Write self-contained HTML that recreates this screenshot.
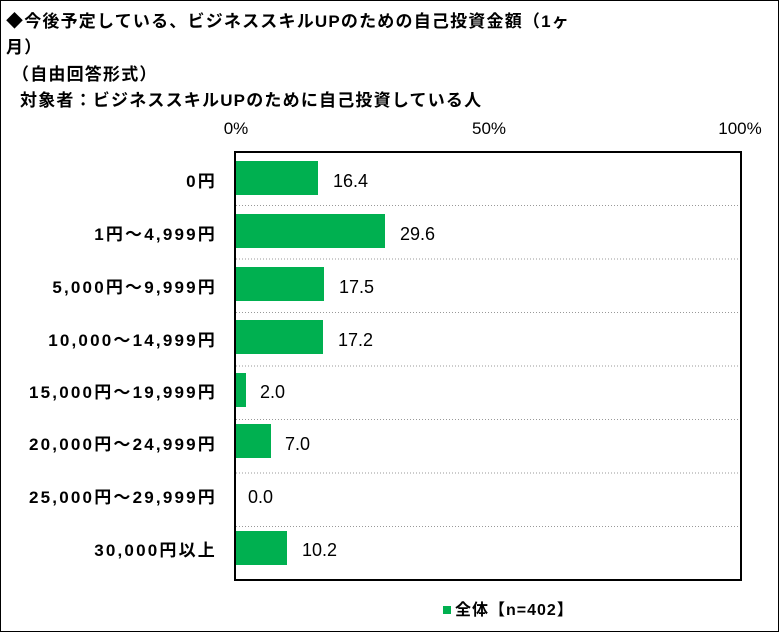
<!DOCTYPE html>
<html><head><meta charset="utf-8"><style>
body{margin:0;background:#fff}
.f{font-family:"Liberation Sans","Noto Sans CJK JP",sans-serif}
</style></head><body>
<svg width="779" height="632" xmlns="http://www.w3.org/2000/svg" class="f">
<rect x="0.5" y="0.5" width="778" height="631" fill="#fff" stroke="#000"/>
<g font-size="17" font-weight="bold" fill="#000" letter-spacing="1.2">
<text x="6" y="27">◆今後予定している、ビジネススキルUPのための自己投資金額（1ヶ</text>
<text x="6" y="53">月）</text>
<text x="12" y="80">（自由回答形式）</text>
<text x="20" y="106">対象者：ビジネススキルUPのために自己投資している人</text>
</g>
<g font-size="17" fill="#000" text-anchor="middle">
<text x="236" y="134">0%</text><text x="489" y="134">50%</text><text x="740" y="134">100%</text>
</g>
<g stroke="#999" stroke-dasharray="1,2" stroke-width="1">
<line x1="236" x2="741" y1="205.5" y2="205.5"/><line x1="236" x2="741" y1="259" y2="259"/>
<line x1="236" x2="741" y1="312.5" y2="312.5"/><line x1="236" x2="741" y1="366" y2="366"/>
<line x1="236" x2="741" y1="419.5" y2="419.5"/><line x1="236" x2="741" y1="473" y2="473"/>
<line x1="236" x2="741" y1="526.5" y2="526.5"/>
</g>
<g fill="#00b050">
<rect x="236" y="161" width="82" height="34"/>
<rect x="236" y="214" width="149" height="34"/>
<rect x="236" y="267" width="88" height="34"/>
<rect x="236" y="320" width="87" height="34"/>
<rect x="236" y="373" width="10" height="34"/>
<rect x="236" y="424" width="35" height="34"/>
<rect x="236" y="531" width="51" height="34"/>
</g>
<rect x="235" y="152" width="506" height="428" fill="none" stroke="#000" stroke-width="2"/>
<g font-size="18" fill="#000">
<text x="333" y="187">16.4</text><text x="400" y="240">29.6</text>
<text x="339" y="293">17.5</text><text x="338" y="346">17.2</text>
<text x="260" y="398">2.0</text><text x="285" y="450">7.0</text>
<text x="248" y="503">0.0</text><text x="302" y="556">10.2</text>
</g>
<g font-size="17" font-weight="bold" fill="#000" text-anchor="end" letter-spacing="2.2">
<text x="217" y="187">0円</text><text x="217" y="240">1円～4,999円</text>
<text x="217" y="293">5,000円～9,999円</text><text x="217" y="346">10,000～14,999円</text>
<text x="217" y="398">15,000円～19,999円</text><text x="217" y="450">20,000円～24,999円</text>
<text x="217" y="503">25,000円～29,999円</text><text x="217" y="556">30,000円以上</text>
</g>
<rect x="443" y="606" width="8" height="8" fill="#00b050"/>
<text x="455" y="615" font-size="16" font-weight="bold" letter-spacing="1">全体【n=402】</text>
</svg>
</body></html>
